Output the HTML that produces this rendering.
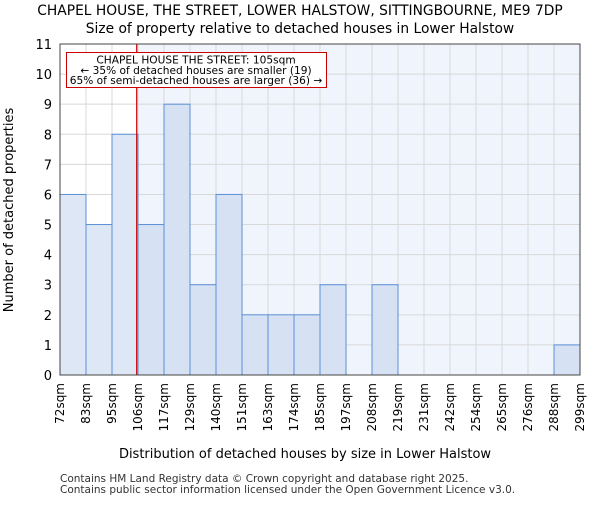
<!DOCTYPE html>
<html><head><meta charset="utf-8"><style>body{margin:0;background:#fff}svg text{font-family:"DejaVu Sans","Liberation Sans",sans-serif}</style></head>
<body>
<svg id="c" width="600" height="500"></svg>
<script>
const edgeLabels=["72sqm","83sqm","95sqm","106sqm","117sqm","129sqm","140sqm","151sqm","163sqm","174sqm","185sqm","197sqm","208sqm","219sqm","231sqm","242sqm","254sqm","265sqm","276sqm","288sqm","299sqm"];
const counts=[6,5,8,5,9,3,6,2,2,2,3,0,3,0,0,0,0,0,0,1];
const yTicks=[0,1,2,3,4,5,6,7,8,9,10,11];
const markerBin=2.95;
const NS="http://www.w3.org/2000/svg";
const svg=document.getElementById('c');
const L=60,R=580,T=44,B=375,yMax=11;
const bw=(R-L)/counts.length;
const x=i=>L+i*bw, y=v=>B-(B-T)*v/yMax;
function el(t,a,txt){const e=document.createElementNS(NS,t);for(const k in a)e.setAttribute(k,a[k]);if(txt!==undefined)e.textContent=txt;svg.appendChild(e);return e;}
const mx=x(markerBin);
let e;
e=el('rect',{x:L,y:T,width:mx-L,height:B-T,fill:'#ffffff'});


e=el('rect',{x:mx,y:T,width:R-mx,height:B-T,fill:'#f0f4fc'});


yTicks.forEach(v=>{e=el('line',{x1:L,x2:R,y1:y(v),y2:y(v),stroke:'#d8d8d8','stroke-width':1});


e=el('text',{x:L-8,y:y(v)+5,'text-anchor':'end','font-size':13,fill:'#000'},v);

});
edgeLabels.forEach((s,i)=>{e=el('line',{x1:x(i),x2:x(i),y1:T,y2:B,stroke:'#d8d8d8','stroke-width':1});


e=el('text',{x:0,y:0,'text-anchor':'end','font-size':12,fill:'#000',transform:`translate(${x(i)+4},${B+8}) rotate(-90)`},s);

});
counts.forEach((v,i)=>{if(!v)return;e=el('rect',{x:x(i),y:y(v),width:bw,height:B-y(v),fill:i<markerBin?'#dde7f5':'#d6e2f4',stroke:'#5b8fd6','stroke-width':1});

});
e=el('line',{x1:mx,x2:mx,y1:T,y2:B,stroke:'#cc0000','stroke-width':1.2});


e=el('rect',{x:L,y:T,width:R-L,height:B-T,fill:'none',stroke:'#444','stroke-width':1});


e=el('rect',{x:66.5,y:52.5,width:260,height:35,fill:'#fff',stroke:'#cc0000','stroke-width':1});


["CHAPEL HOUSE THE STREET: 105sqm","← 35% of detached houses are smaller (19)","65% of semi-detached houses are larger (36) →"].forEach((s,i)=>{e=el('text',{x:196,y:63.5+i*10.3,'text-anchor':'middle','font-size':10.6,fill:'#000'},s);

});
e=el('text',{x:300,y:15,'text-anchor':'middle','font-size':13.8,fill:'#000'},"CHAPEL HOUSE, THE STREET, LOWER HALSTOW, SITTINGBOURNE, ME9 7DP");


e=el('text',{x:300,y:33,'text-anchor':'middle','font-size':13.8,fill:'#000'},"Size of property relative to detached houses in Lower Halstow");


e=el('text',{x:305,y:458,'text-anchor':'middle','font-size':13,fill:'#000'},"Distribution of detached houses by size in Lower Halstow");


e=el('text',{x:0,y:0,'text-anchor':'middle','font-size':13,fill:'#000',transform:'translate(13,210) rotate(-90)'},"Number of detached properties");


e=el('text',{x:60,y:482,'font-size':10.5,fill:'#333'},"Contains HM Land Registry data © Crown copyright and database right 2025.");


e=el('text',{x:60,y:493,'font-size':10.5,fill:'#333'},"Contains public sector information licensed under the Open Government Licence v3.0.");


</script>
</body></html>
